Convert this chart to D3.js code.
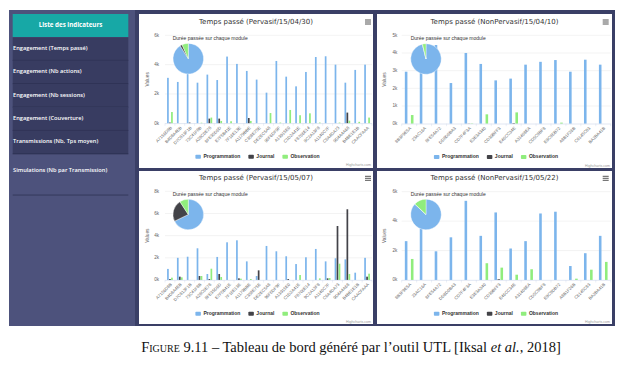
<!DOCTYPE html>
<html><head><meta charset="utf-8">
<script src="https://cdn.jsdelivr.net/npm/d3@7"></script>
<style>body{margin:0;background:#fff}svg{display:block}</style>
</head><body><svg id="c" width="627" height="367"></svg>
<script>
// ---------- DATA ----------
const seriesNames = ["Programmation", "Journal", "Observation"];
const seriesColors = ["#7cb5ec", "#434348", "#90ed7d"];
const sidebarTitle = "Liste des indicateurs";
const menuItems = ["Engagement (Temps passé)", "Engagement (Nb actions)", "Engagement (Nb sessions)",
  "Engagement (Couverture)", "Transmissions (Nb, Tps moyen)", "Simulations (Nb par Transmission)"];
const pieTitle = "Durée passée sur chaque module";
const yAxisTitle = "Values";
const caption = ["Figure", " 9.11 – Tableau de bord généré par l’outil UTL [Iksal ", "et al.", ", 2018]"];

const catsPervasif = ["A7156D8B","B4D8A4EB","D7C813F1B","73C41F8B","A28C0E78","8FE35D6D","E7F5B41E",
  "7F16E13E","A1179BBE","C358E75E","DE2EC5A8","96F6DF9F","A13915E0","C1D2A41E","F8706E14",
  "9C2A13F8","A1140C7F","C6A4DA73","9D4A4A68","B4BE1E1B","CAACFAAA"];
const catsNonPervasif = ["8B3F9E5A","23AC16A","8FE54A72","DD8D0BA3","CD7F4F3A","E3E3A340","CD39BFF3",
  "E46CC34E","A31408EA","CD5C8BF8","E9C8DB72","A8B1F26B","C6145C83","BA2BA41B"];

const titles = ["Temps passé (Pervasif/15/04/30)", "Temps passé (NonPervasif/15/04/10)",
  "Temps passé (Pervasif/15/05/07)", "Temps passé (NonPervasif/15/05/22)"];

const c1Prog = [3100,2820,3450,2770,3320,2950,4550,4050,3570,2980,2090,4250,3180,2520,3500,4520,4570,4000,2770,3640,4000];
const c1Jour = [50,0,50,0,320,320,0,0,360,0,0,0,0,0,0,0,0,0,730,0,0];
const c1Obs  = [770,0,0,40,390,160,140,0,160,0,700,50,910,550,680,50,0,50,180,100,390];

const c2Prog = [2940,3000,4450,2300,4000,3380,2450,2550,3340,3500,3600,2940,3620,3340];
const c2Jour = [0,0,0,0,10,0,0,30,0,0,0,0,0,0];
const c2Obs  = [490,0,0,0,20,530,0,640,0,0,60,0,0,0];

const c3Prog = [1000,2000,2100,2860,540,2080,3400,3580,1680,360,3070,2590,2140,1440,2050,2800,1680,1960,1860,660,2000];
const c3Jour = [90,300,0,360,90,540,0,150,0,870,0,0,90,0,0,0,150,4870,6380,0,300];
const c3Obs  = [210,240,0,360,1020,270,0,120,90,0,0,0,0,450,0,150,180,1470,540,0,570];

const c4Prog = [2640,3500,1950,2900,5380,3000,4590,2140,2640,4520,4640,950,1820,3000];
const c4Jour = [0,0,0,0,0,0,50,0,0,0,0,0,0,0];
const c4Obs  = [1430,0,0,0,0,1140,840,360,730,0,0,90,700,1230];

const yMaxes = [6000, 5000, 8000, 6000];
const ySteps = [2000, 1000, 2000, 2000];

// ---------- DRAW ----------
const svg = d3.select("#c");
const SANS = "'Liberation Sans', Arial, sans-serif";
const TSANS = "'DejaVu Sans', sans-serif";

// dashboard frame
svg.append("rect").attr("x", 9).attr("y", 10).attr("width", 127).attr("height", 316).attr("fill", "#4d527c");
svg.append("rect").attr("x", 135).attr("y", 10).attr("width", 480).attr("height", 316).attr("fill", "#3a3f66");

// sidebar
svg.append("rect").attr("x", 12.7).attr("y", 14).attr("width", 115.6).attr("height", 23).attr("fill", "#17a8a6");
svg.append("text").attr("x", 70.5).attr("y", 25.7).attr("text-anchor", "middle").attr("dominant-baseline", "middle")
  .attr("fill", "#fff").attr("font-family", "'Open Sans', sans-serif").attr("font-weight", 700).attr("font-size", 6.2)
  .text(sidebarTitle);
menuItems.forEach((m, i) => {
  const y0 = 37.3 + i * 23.35;
  if (i < 5) {
    svg.append("rect").attr("x", 12.7).attr("y", y0).attr("width", 115.6).attr("height", 23.35).attr("fill", "#383c61");
    svg.append("line").attr("x1", 12.7).attr("x2", 128.3).attr("y1", y0 + 23.1).attr("y2", y0 + 23.1)
      .attr("stroke", "#2b2f4f").attr("stroke-width", 0.8);
  } else {
    svg.append("line").attr("x1", 12.7).attr("x2", 128.3).attr("y1", y0 + 41).attr("y2", y0 + 41)
      .attr("stroke", "#2f3354").attr("stroke-width", 0.8);
  }
  svg.append("text").attr("x", 13).attr("y", y0 + 11.2 + (i === 5 ? 5 : 0)).attr("dominant-baseline", "middle")
    .attr("fill", "#fff").attr("font-family", "'Open Sans', sans-serif").attr("font-weight", 600).attr("font-size", 5.7)
    .text(m);
});

const charts = [
  {cats: catsPervasif, vals: [c1Prog, c1Jour, c1Obs], box: [139, 14, 234, 154], titleY: 22,
   plot: [165, 372, 35.3, 123.3], yLabX: 159, valX: 148, pie: [188.3, 58.7, 15.3, 172.7, 38.3],
   legY: 156.7, legCx: 257.5, credY: 165.5, menu: [368, 22]},
  {cats: catsNonPervasif, vals: [c2Prog, c2Jour, c2Obs], box: [377, 14, 235, 154], titleY: 22,
   plot: [401.7, 610.7, 35.3, 123.7], yLabX: 397.3, valX: 385, pie: [426, 59, 15.3, 410.7, 38.3],
   legY: 157, legCx: 496, credY: 165.7, menu: [605.7, 22]},
  {cats: catsPervasif, vals: [c3Prog, c3Jour, c3Obs], box: [139, 171, 234, 153], titleY: 178.3,
   plot: [165, 372, 191.3, 280], yLabX: 159, valX: 148, pie: [188.3, 214.5, 15.3, 172.7, 195],
   legY: 313.7, legCx: 257.5, credY: 322, menu: [368, 178.3]},
  {cats: catsNonPervasif, vals: [c4Prog, c4Jour, c4Obs], box: [377, 171, 235, 153], titleY: 178.3,
   plot: [401.7, 610.7, 191.7, 280], yLabX: 397.3, valX: 385, pie: [426, 214.5, 15.3, 410.7, 195],
   legY: 313.7, legCx: 496, credY: 322, menu: [605.7, 178.3]}
];

charts.forEach((c, ci) => {
  const g = svg.append("g");
  const [bx, by, bw, bh] = c.box;
  g.append("rect").attr("x", bx).attr("y", by).attr("width", bw).attr("height", bh).attr("fill", "#fff");
  // title
  g.append("text").attr("x", bx + bw / 2).attr("y", c.titleY).attr("text-anchor", "middle")
    .attr("dominant-baseline", "middle").attr("fill", "#333").attr("font-family", TSANS).attr("font-size", 7)
    .text(titles[ci]);
  // menu icon
  [-2, 0, 2].forEach(d => g.append("line").attr("x1", c.menu[0] - 3).attr("x2", c.menu[0] + 3)
    .attr("y1", c.menu[1] + d).attr("y2", c.menu[1] + d).attr("stroke", "#555").attr("stroke-width", 1));

  const [pl, pr, pt, pb] = c.plot;
  const y = d3.scaleLinear().domain([0, yMaxes[ci]]).range([pb, pt]);
  const x = d3.scaleBand().domain(c.cats).range([pl, pr]);
  const xs = d3.scaleBand().domain(seriesNames).range([x.bandwidth() * 0.2, x.bandwidth() * 0.8]).paddingInner(0.15).paddingOuter(0.05);
  const ticks = d3.range(0, yMaxes[ci] + 1, ySteps[ci]);

  // grid
  g.selectAll(null).data(ticks.slice(1)).join("line")
    .attr("x1", pl).attr("x2", pr).attr("y1", d => y(d)).attr("y2", d => y(d))
    .attr("stroke", "#e6e6e6").attr("stroke-width", 0.5);
  g.selectAll(null).data(ticks).join("text")
    .attr("x", c.yLabX).attr("y", d => y(d)).attr("text-anchor", "end").attr("dominant-baseline", "middle")
    .attr("fill", "#666").attr("font-family", SANS).attr("font-size", 4.6)
    .text(d => (d / 1000) + "k");
  g.append("text").attr("transform", `translate(${c.valX},${(pt + pb) / 2}) rotate(-90)`)
    .attr("text-anchor", "middle").attr("dominant-baseline", "middle").attr("fill", "#666")
    .attr("font-family", SANS).attr("font-size", 4.8).text(yAxisTitle);

  // bars
  seriesNames.forEach((s, si) => {
    g.selectAll(null).data(c.vals[si]).join("rect")
      .attr("x", (d, i) => x(c.cats[i]) + xs(s)).attr("width", xs.bandwidth())
      .attr("y", d => y(d)).attr("height", d => y(0) - y(d)).attr("fill", seriesColors[si]);
  });
  // axis line
  g.append("line").attr("x1", pl).attr("x2", pr).attr("y1", pb + 0.3).attr("y2", pb + 0.3)
    .attr("stroke", "#ccd6eb").attr("stroke-width", 0.6);
  g.selectAll(null).data(c.cats).join("line")
    .attr("x1", d => x(d)).attr("x2", d => x(d)).attr("y1", pb).attr("y2", pb + 2.5)
    .attr("stroke", "#ccd6eb").attr("stroke-width", 0.4);
  g.append("line").attr("x1", pr).attr("x2", pr).attr("y1", pb).attr("y2", pb + 2.5)
    .attr("stroke", "#ccd6eb").attr("stroke-width", 0.4);
  // x labels
  g.selectAll(null).data(c.cats).join("text")
    .attr("transform", d => `translate(${x(d) + x.bandwidth() / 2 + 1.5},${pb + 4}) rotate(-45)`)
    .attr("text-anchor", "end").attr("dominant-baseline", "middle").attr("fill", "#666")
    .attr("font-family", SANS).attr("font-size", 4.3).text(d => d);

  // pie of totals
  const totals = c.vals.map(a => d3.sum(a));
  const [pcx, pcy, pr0, ptx, pty] = c.pie;
  const arcs = d3.pie().sort(null)(totals);
  const arc = d3.arc().innerRadius(0).outerRadius(pr0);
  g.append("g").attr("transform", `translate(${pcx},${pcy})`).selectAll("path").data(arcs).join("path")
    .attr("d", arc).attr("fill", (d, i) => seriesColors[i]).attr("stroke", "#fff").attr("stroke-width", 0.4);
  g.append("text").attr("x", ptx).attr("y", pty).attr("dominant-baseline", "middle").attr("fill", "#333")
    .attr("font-family", SANS).attr("font-size", 5).text(pieTitle);

  // legend
  const lg = g.append("g");
  let cx = 0;
  seriesNames.forEach((s, si) => {
    lg.append("rect").attr("x", cx).attr("y", -2).attr("width", 5.5).attr("height", 4).attr("rx", 0.8)
      .attr("fill", seriesColors[si]);
    const t = lg.append("text").attr("x", cx + 8).attr("y", 0).attr("dominant-baseline", "middle")
      .attr("fill", "#333").attr("font-family", SANS).attr("font-weight", 700).attr("font-size", 5).text(s);
    cx += 8 + t.node().getComputedTextLength() + 8;
  });
  const lw = cx - 8;
  lg.attr("transform", `translate(${c.legCx - lw / 2},${c.legY})`);

  // credits
  g.append("text").attr("x", bx + bw - 2).attr("y", c.credY).attr("text-anchor", "end")
    .attr("dominant-baseline", "middle").attr("fill", "#999").attr("font-family", SANS).attr("font-size", 3.6)
    .text("Highcharts.com");
});

// caption
const cap = svg.append("text").attr("x", 351).attr("y", 351.5).attr("text-anchor", "middle")
  .attr("fill", "#111").attr("font-family", "'Liberation Serif', 'DejaVu Serif', serif").attr("font-size", 14.5);
cap.append("tspan").style("font-variant", "small-caps").text(caption[0]);
cap.append("tspan").text(caption[1]);
cap.append("tspan").attr("font-style", "italic").text(caption[2]);
cap.append("tspan").text(caption[3]);
</script></body></html>
